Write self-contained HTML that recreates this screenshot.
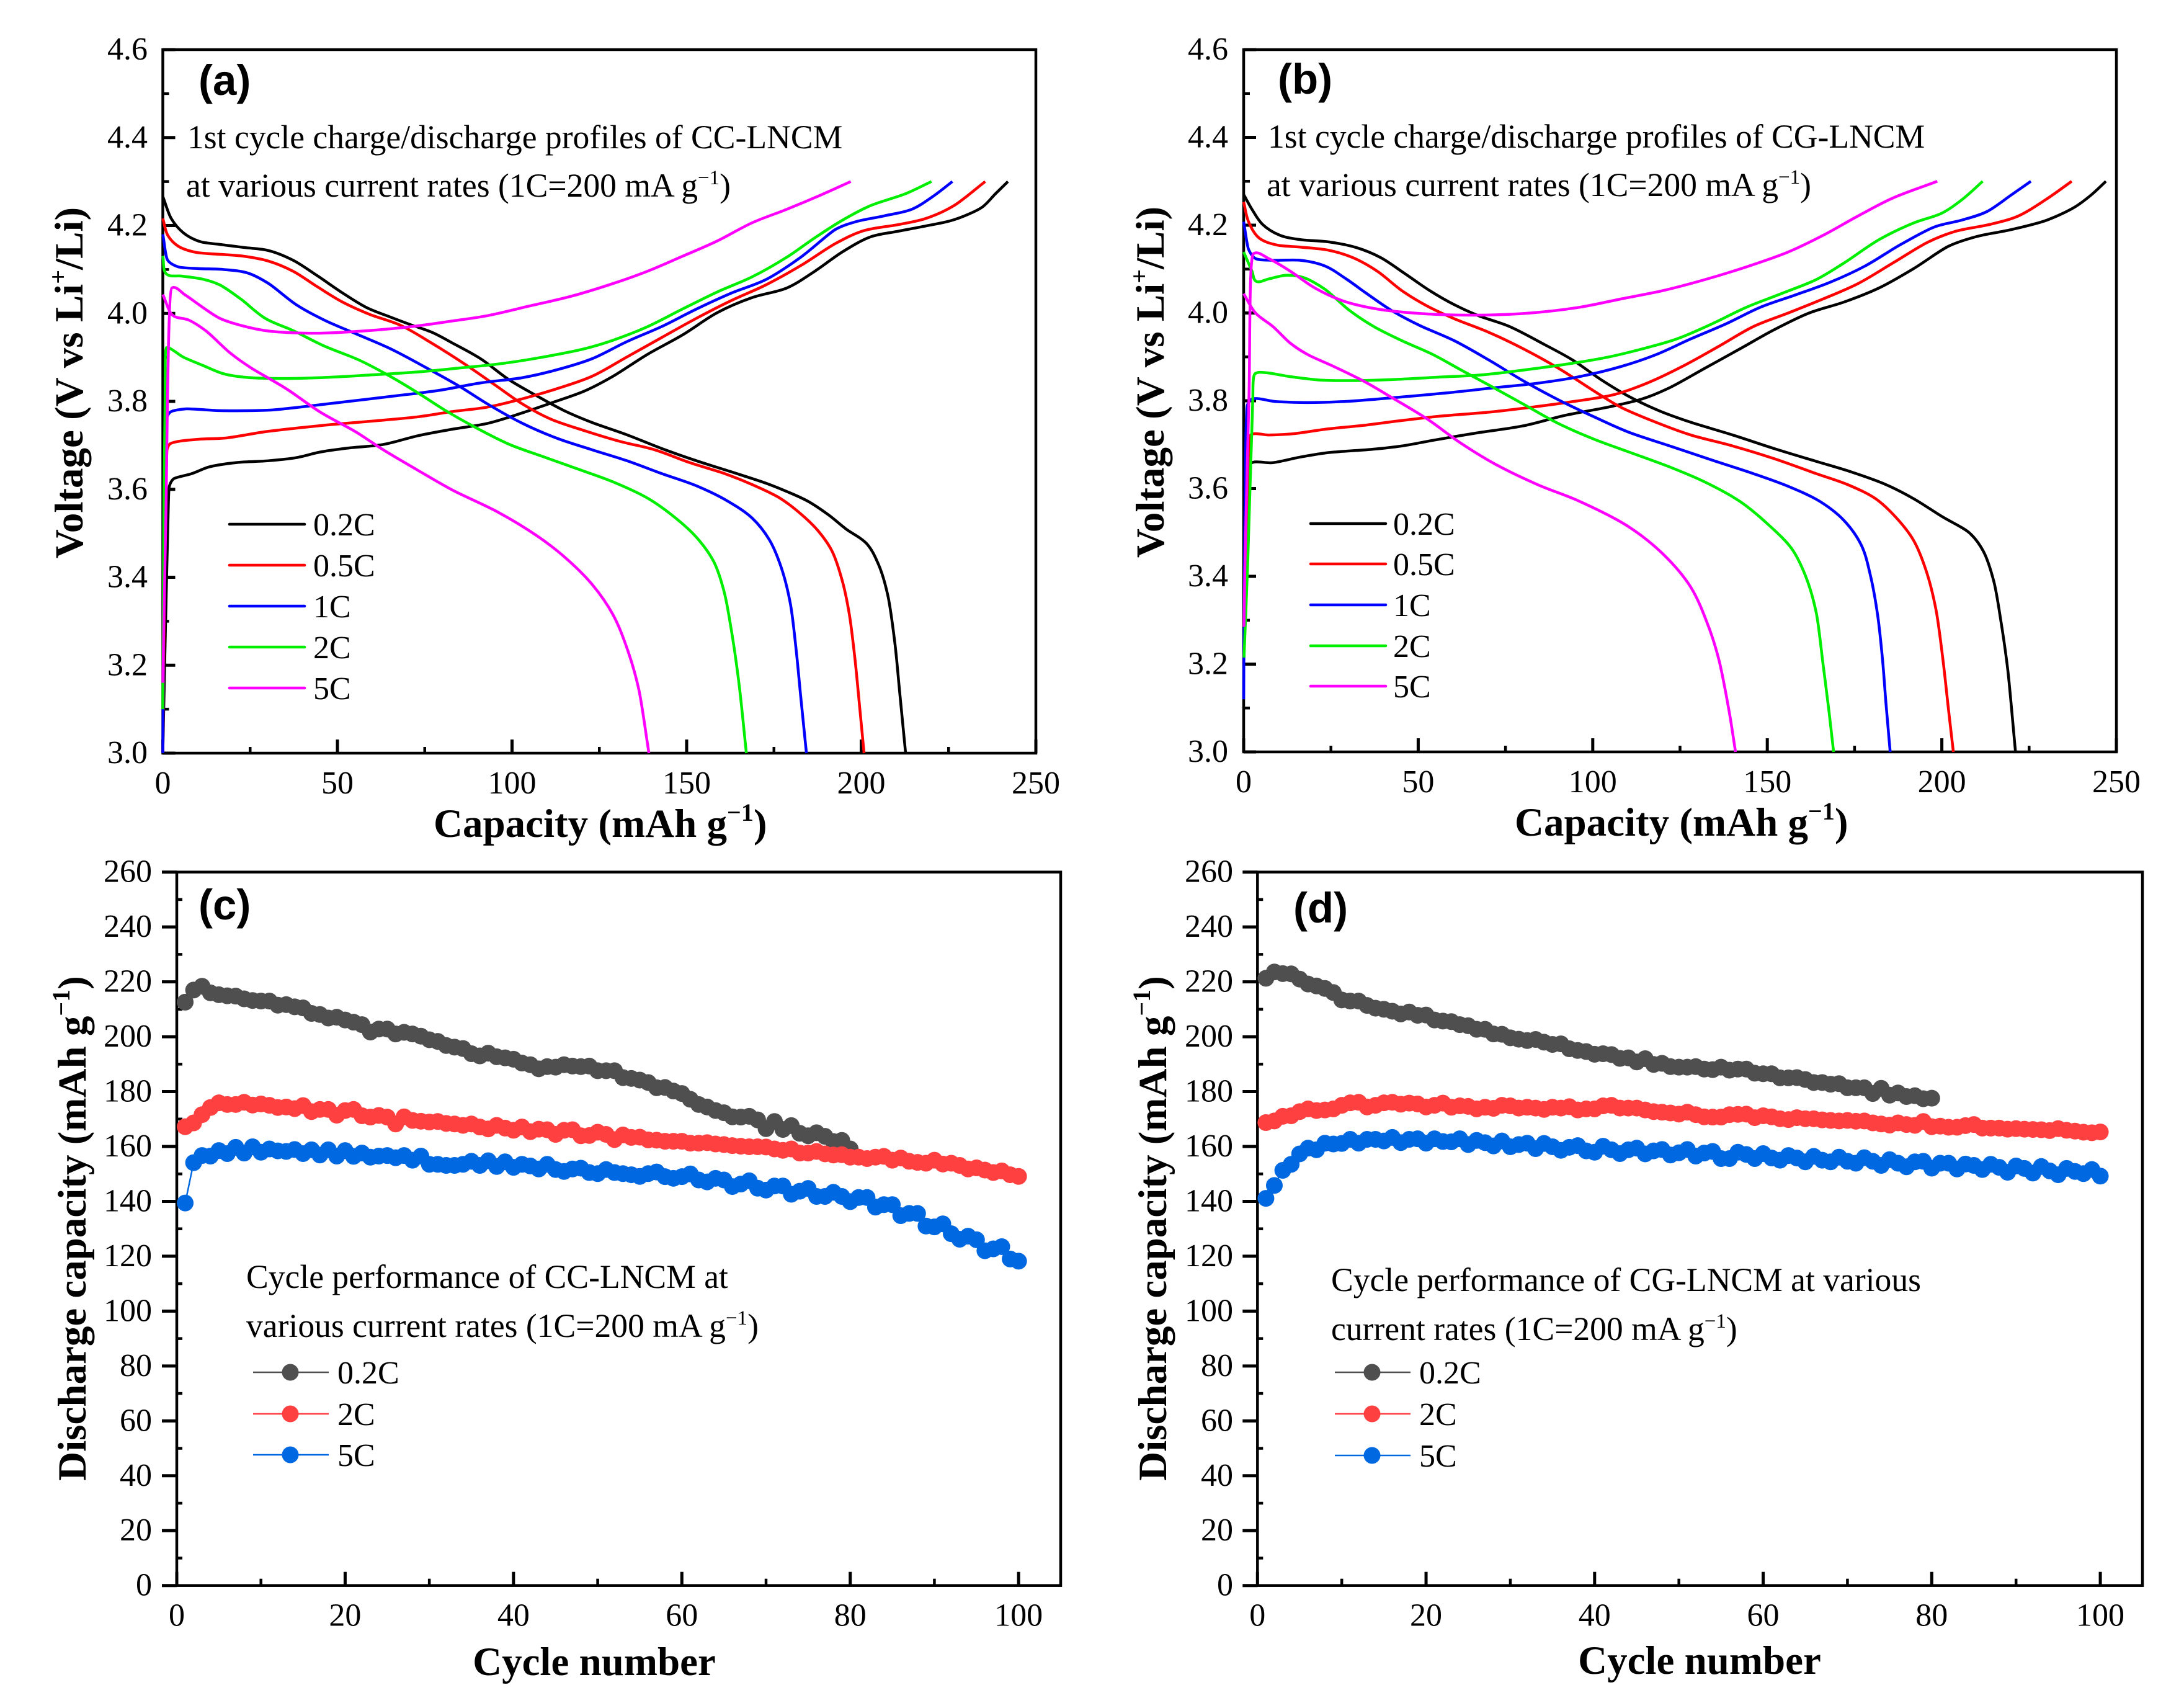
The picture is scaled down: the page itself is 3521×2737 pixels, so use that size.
<!DOCTYPE html>
<html lang="en">
<head>
<meta charset="utf-8">
<title>Charge/discharge profiles and cycle performance of CC-LNCM and CG-LNCM</title>
<style>
html,body{margin:0;padding:0;background:#fff;}
svg{display:block;}
text{font-family:"Liberation Serif",serif;fill:#000;}
.tick{font-size:52px;}
.note{font-size:53.6px;}
.leg{font-size:52px;}
.title{font-size:65px;font-weight:bold;}
.tag{font-family:"Liberation Sans",sans-serif;font-size:69px;font-weight:bold;}
</style>
</head>
<body>
<svg id="figure" xmlns="http://www.w3.org/2000/svg" width="3521" height="2737" viewBox="0 0 3521 2737">
<rect x="0" y="0" width="3521" height="2737" fill="#fff"/>

<g id="panel-a"></g>
<g id="panel-b"></g>
<g id="panel-c"></g>
<g id="panel-d"></g>

<g>
<text class="title" transform="translate(133,617) rotate(-90)" text-anchor="middle">Voltage (V vs Li<tspan dy="-26" font-size="40">+</tspan><tspan dy="26">/Li)</tspan></text>
<text class="title" x="699" y="1349">Capacity (mAh g<tspan dy="-26" font-size="40">−1</tspan><tspan dy="26">)</tspan></text>
<text class="tag" x="320" y="153">(a)</text>
<text class="note" x="302" y="239">1st cycle charge/discharge profiles of CC-LNCM</text>
<text class="note" x="300" y="317">at various current rates (1C=200 mA g<tspan dy="-20" font-size="33">−1</tspan><tspan dy="20">)</tspan></text>
<g>
<line x1="370" x2="491" y1="845" y2="845" stroke="#000" stroke-width="4.5" stroke-linecap="round"/>
<text class="leg" x="505" y="863">0.2C</text>
<line x1="370" x2="491" y1="911" y2="911" stroke="#ff0000" stroke-width="4.5" stroke-linecap="round"/>
<text class="leg" x="505" y="929">0.5C</text>
<line x1="370" x2="491" y1="977" y2="977" stroke="#0000ff" stroke-width="4.5" stroke-linecap="round"/>
<text class="leg" x="505" y="995">1C</text>
<line x1="370" x2="491" y1="1043" y2="1043" stroke="#00ee00" stroke-width="4.5" stroke-linecap="round"/>
<text class="leg" x="505" y="1061">2C</text>
<line x1="370" x2="491" y1="1109" y2="1109" stroke="#ff00ff" stroke-width="4.5" stroke-linecap="round"/>
<text class="leg" x="505" y="1127">5C</text>
</g>
</g>

<g>
<text class="title" transform="translate(1876,616) rotate(-90)" text-anchor="middle">Voltage (V vs Li<tspan dy="-26" font-size="40">+</tspan><tspan dy="26">/Li)</tspan></text>
<text class="title" x="2442" y="1347">Capacity (mAh g<tspan dy="-26" font-size="40">−1</tspan><tspan dy="26">)</tspan></text>
<text class="tag" x="2060" y="151">(b)</text>
<text class="note" x="2044" y="238">1st cycle charge/discharge profiles of CG-LNCM</text>
<text class="note" x="2042" y="316">at various current rates (1C=200 mA g<tspan dy="-20" font-size="33">−1</tspan><tspan dy="20">)</tspan></text>
<g>
<line x1="2113" x2="2234" y1="844" y2="844" stroke="#000" stroke-width="4.5" stroke-linecap="round"/>
<text class="leg" x="2246" y="862">0.2C</text>
<line x1="2113" x2="2234" y1="909" y2="909" stroke="#ff0000" stroke-width="4.5" stroke-linecap="round"/>
<text class="leg" x="2246" y="927">0.5C</text>
<line x1="2113" x2="2234" y1="975" y2="975" stroke="#0000ff" stroke-width="4.5" stroke-linecap="round"/>
<text class="leg" x="2246" y="993">1C</text>
<line x1="2113" x2="2234" y1="1041" y2="1041" stroke="#00ee00" stroke-width="4.5" stroke-linecap="round"/>
<text class="leg" x="2246" y="1059">2C</text>
<line x1="2113" x2="2234" y1="1106" y2="1106" stroke="#ff00ff" stroke-width="4.5" stroke-linecap="round"/>
<text class="leg" x="2246" y="1124">5C</text>
</g>
</g>

<g>
<text class="title" transform="translate(138,1980) rotate(-90)" text-anchor="middle">Discharge capacity (mAh g<tspan dy="-26" font-size="40">−1</tspan><tspan dy="26">)</tspan></text>
<text class="title" x="958" y="2700" text-anchor="middle">Cycle number</text>
<text class="tag" x="320" y="1482">(c)</text>
<text class="note" x="397" y="2087" transform="translate(0,-11)">Cycle performance of CC-LNCM at</text>
<text class="note" x="397" y="2166" transform="translate(0,-11)">various current rates (1C=200 mA g<tspan dy="-20" font-size="33">−1</tspan><tspan dy="20">)</tspan></text>
<g>
<line x1="408" x2="530" y1="2212" y2="2212" stroke="#4f4f4f" stroke-width="2.5"/>
<circle cx="468" cy="2212" r="13.5" fill="#4f4f4f"/>
<text class="leg" x="544" y="2230">0.2C</text>
<line x1="408" x2="530" y1="2279" y2="2279" stroke="#ff4040" stroke-width="2.5"/>
<circle cx="468" cy="2279" r="13.5" fill="#ff4040"/>
<text class="leg" x="544" y="2297">2C</text>
<line x1="408" x2="530" y1="2345" y2="2345" stroke="#0068e0" stroke-width="2.5"/>
<circle cx="468" cy="2345" r="13.5" fill="#0068e0"/>
<text class="leg" x="544" y="2363">5C</text>
</g>
</g>

<g>
<text class="title" transform="translate(1880,1980) rotate(-90)" text-anchor="middle">Discharge capacity (mAh g<tspan dy="-26" font-size="40">−1</tspan><tspan dy="26">)</tspan></text>
<text class="title" x="2740" y="2698" text-anchor="middle">Cycle number</text>
<text class="tag" x="2085" y="1487">(d)</text>
<text class="note" x="2146" y="2081">Cycle performance of CG-LNCM at various</text>
<text class="note" x="2146" y="2160">current rates (1C=200 mA g<tspan dy="-20" font-size="33">−1</tspan><tspan dy="20">)</tspan></text>
<g>
<line x1="2152" x2="2274" y1="2212" y2="2212" stroke="#4f4f4f" stroke-width="2.5"/>
<circle cx="2212" cy="2212" r="13.5" fill="#4f4f4f"/>
<text class="leg" x="2288" y="2230">0.2C</text>
<line x1="2152" x2="2274" y1="2279" y2="2279" stroke="#ff4040" stroke-width="2.5"/>
<circle cx="2212" cy="2279" r="13.5" fill="#ff4040"/>
<text class="leg" x="2288" y="2297">2C</text>
<line x1="2152" x2="2274" y1="2346" y2="2346" stroke="#0068e0" stroke-width="2.5"/>
<circle cx="2212" cy="2346" r="13.5" fill="#0068e0"/>
<text class="leg" x="2288" y="2364">5C</text>
</g>
</g>
</svg>

<script>
// ---- tick values ----
const capacityTickLabels = ["0","50","100","150","200","250"];
const capacityTickValues = [0,50,100,150,200,250];
const capacityMinorValues = [25,75,125,175,225];
const voltageTickLabels = ["3.0","3.2","3.4","3.6","3.8","4.0","4.2","4.4","4.6"];
const voltageTickValues = [3.0,3.2,3.4,3.6,3.8,4.0,4.2,4.4,4.6];
const voltageMinorValues = [3.1,3.3,3.5,3.7,3.9,4.1,4.3,4.5];
const cycleTickLabels = ["0","20","40","60","80","100"];
const cycleTickValues = [0,20,40,60,80,100];
const cycleMinorValues = [10,30,50,70,90];
const dischargeTickLabels = ["0","20","40","60","80","100","120","140","160","180","200","220","240","260"];
const dischargeTickValues = [0,20,40,60,80,100,120,140,160,180,200,220,240,260];
const dischargeMinorValues = [10,30,50,70,90,110,130,150,170,190,210,230,250];

// ---- panel (a): [capacity, voltage] ----
const a02cDischarge = [[0,4.266],[2.4,4.216],[5.8,4.184],[10.4,4.164],[16.3,4.157],[23.3,4.15],[30.3,4.143],[37.3,4.121],[44.2,4.086],[51.2,4.048],[58.2,4.014],[65.1,3.992],[71.1,3.974],[77.1,3.957],[83.1,3.932],[91,3.897],[99,3.85],[107,3.813],[114.9,3.779],[122.9,3.752],[132.9,3.724],[142.8,3.693],[152.8,3.665],[162.7,3.64],[172.7,3.614],[178.7,3.595],[184.7,3.573],[190.6,3.542],[195.6,3.51],[201.6,3.476],[205,3.428],[207.6,3.359],[209.6,3.252],[211,3.139],[212.7,3.0]];
const a02cCharge = [[0,3.0],[0.8,3.3],[1.6,3.57],[1.9,3.608],[3.1,3.624],[8.4,3.636],[13.3,3.651],[21.3,3.661],[30.3,3.665],[38.2,3.672],[45.2,3.685],[53.2,3.694],[63.1,3.702],[73.1,3.722],[83.1,3.737],[93,3.75],[103,3.774],[112.9,3.801],[120.9,3.824],[128.9,3.857],[138.8,3.907],[148.8,3.951],[158.8,4.002],[168.7,4.036],[178.7,4.058],[186.7,4.096],[194.6,4.14],[202.6,4.174],[210.6,4.187],[218.5,4.199],[226.5,4.213],[234.5,4.241],[238.4,4.272],[242,4.3]];
const a05cDischarge = [[0,4.216],[1.4,4.178],[4.4,4.153],[9.4,4.139],[17.3,4.134],[23.3,4.13],[30.3,4.119],[37.3,4.096],[44.2,4.061],[51.2,4.027],[59.2,3.998],[68.1,3.973],[77.1,3.932],[87,3.882],[95,3.838],[103,3.794],[111,3.76],[120.9,3.733],[130.9,3.709],[140.8,3.69],[150.8,3.661],[160.8,3.636],[168.7,3.611],[176.7,3.58],[182.7,3.544],[187.6,3.506],[191.6,3.46],[194.6,3.391],[196.6,3.315],[198.2,3.214],[199.6,3.1],[200.8,3.0]];
const a05cCharge = [[0,3.0],[0.5,3.4],[1.2,3.69],[2,3.703],[4.4,3.709],[10.4,3.714],[18.3,3.717],[29.3,3.731],[39.2,3.74],[49.2,3.748],[61.2,3.756],[73.1,3.765],[83,3.777],[93,3.787],[103,3.806],[112.9,3.829],[122.9,3.857],[132.9,3.901],[142.8,3.945],[152.8,3.989],[162.7,4.029],[172.7,4.065],[182.7,4.109],[192.6,4.159],[200.6,4.188],[210.6,4.202],[218.5,4.216],[226.5,4.245],[235.5,4.3]];
const a1cDischarge = [[0,4.18],[1.4,4.121],[4.4,4.106],[10.4,4.102],[17.3,4.1],[24.3,4.092],[30.3,4.068],[38.2,4.02],[46.2,3.985],[55.2,3.954],[65.1,3.92],[75.1,3.878],[85,3.834],[93,3.794],[103,3.75],[112.9,3.716],[122.9,3.69],[132.9,3.665],[142.8,3.636],[152.8,3.608],[161.8,3.573],[168.7,3.535],[173.7,3.485],[177.1,3.422],[179.7,3.34],[181.3,3.239],[182.7,3.126],[184.3,3.0]];
const a1cCharge = [[0,3.0],[0.4,3.5],[1,3.76],[2.2,3.776],[6.7,3.783],[16.3,3.779],[30.3,3.78],[39.2,3.787],[53.2,3.8],[67.1,3.813],[79.1,3.825],[91,3.842],[103,3.854],[112.9,3.872],[122.9,3.897],[132.9,3.936],[142.8,3.97],[152.8,4.01],[162.7,4.046],[172.7,4.077],[182.7,4.128],[192.6,4.191],[198.6,4.209],[206.6,4.222],[214.5,4.237],[220.5,4.266],[226.1,4.3]];
const a2cDischarge = [[0,4.131],[1,4.09],[5.4,4.085],[11.4,4.078],[16.3,4.065],[22.3,4.033],[29.3,3.989],[37.3,3.961],[46.2,3.926],[56.2,3.894],[65.1,3.857],[73.1,3.819],[81,3.779],[89,3.743],[99,3.703],[109,3.674],[118.9,3.646],[128.9,3.617],[138.8,3.58],[146.8,3.535],[152.8,3.491],[157.8,3.435],[160.8,3.365],[163.1,3.265],[165.1,3.151],[167.1,3.0]];
const a2cCharge = [[0,3.1],[0.27,3.528],[0.62,3.78],[1.03,3.922],[2.8,3.917],[5.8,3.901],[11.4,3.882],[17.3,3.863],[23.3,3.855],[33.3,3.852],[45.2,3.854],[59.2,3.86],[73.1,3.867],[85,3.876],[97,3.886],[109,3.901],[120.9,3.92],[128.9,3.939],[138.8,3.97],[148.8,4.01],[158.8,4.049],[168.7,4.083],[178.7,4.128],[186.7,4.172],[194.6,4.212],[202.6,4.245],[212.6,4.272],[220.1,4.3]];
const a5cDischarge = [[0,4.043],[2.8,3.996],[7.4,3.985],[12.4,3.96],[19.3,3.91],[25.3,3.876],[35.3,3.829],[45.2,3.775],[55.2,3.731],[63.1,3.69],[73.1,3.643],[83,3.598],[96,3.548],[107,3.495],[114.9,3.447],[122.9,3.384],[128.9,3.315],[132.9,3.239],[136.3,3.145],[139.2,3.0]];
const a5cCharge = [[0,3.16],[0.85,3.528],[2.6,4.058],[6.4,4.042],[11.4,4.014],[16.3,3.989],[22.3,3.973],[30.3,3.96],[43.2,3.955],[57.2,3.96],[71.1,3.97],[83,3.983],[93,3.995],[105,4.017],[116.9,4.039],[128.9,4.068],[138.8,4.096],[148.8,4.13],[158.8,4.165],[168.7,4.206],[178.7,4.237],[188.6,4.27],[197,4.3]];

// ---- panel (b): [capacity, voltage] ----
const b02cDischarge = [[0,4.27],[2.4,4.236],[5.4,4.202],[10.4,4.177],[16.4,4.167],[24.3,4.162],[32.3,4.149],[39.3,4.126],[46.3,4.089],[53.3,4.051],[60.3,4.019],[67.2,3.994],[76.2,3.969],[86.2,3.928],[94.2,3.893],[102.2,3.849],[110.1,3.811],[119.1,3.777],[128.1,3.751],[140.1,3.722],[152,3.691],[164,3.662],[174,3.638],[184,3.609],[191.9,3.577],[199.9,3.537],[207.9,3.499],[211.9,3.457],[214.9,3.388],[216.9,3.299],[218.9,3.186],[221.1,3.0]];
const b02cCharge = [[0,3.2],[0.8,3.4],[1.6,3.62],[2,3.657],[8.4,3.659],[16.4,3.672],[24.3,3.682],[36.3,3.689],[45.3,3.697],[54.3,3.71],[66.2,3.726],[80.2,3.743],[92.2,3.767],[104.1,3.785],[114.1,3.804],[122.1,3.83],[132.1,3.874],[142.1,3.918],[152,3.962],[162,4.0],[172,4.025],[182,4.057],[191.9,4.101],[201.9,4.152],[209.9,4.174],[219.9,4.19],[229.9,4.211],[237.8,4.24],[242.8,4.269],[247,4.3]];
const b05cDischarge = [[0,4.253],[1.4,4.208],[4.4,4.171],[9.4,4.155],[16.4,4.15],[24.3,4.143],[31.3,4.126],[38.3,4.095],[45.3,4.051],[52.3,4.017],[60.3,3.987],[70.2,3.956],[80.2,3.918],[90.2,3.874],[100.2,3.823],[108.1,3.785],[118.1,3.751],[128.1,3.722],[140.1,3.697],[152,3.668],[164,3.634],[173,3.609],[181,3.577],[187,3.533],[191.9,3.482],[195.5,3.413],[198.3,3.325],[200.3,3.211],[201.9,3.097],[203.3,3.0]];
const b05cCharge = [[0,3.2],[0.8,3.45],[1.6,3.69],[2,3.722],[7.4,3.722],[14.4,3.725],[24.3,3.736],[34.3,3.744],[44.3,3.754],[56.3,3.765],[70.2,3.774],[82.2,3.785],[94.2,3.798],[106.1,3.814],[116.1,3.842],[126.1,3.88],[136.1,3.924],[146,3.969],[156,4.0],[166,4.032],[176,4.067],[186,4.114],[195.9,4.161],[203.9,4.186],[213.9,4.202],[221.9,4.221],[229.9,4.259],[237.2,4.3]];
const b1cDischarge = [[0,4.208],[1.4,4.145],[3.4,4.124],[8.4,4.12],[16.4,4.12],[23.3,4.107],[29.3,4.078],[35.3,4.044],[42.3,4.006],[50.3,3.972],[60.3,3.937],[70.2,3.893],[80.2,3.845],[90.2,3.802],[100.2,3.764],[110.1,3.729],[122.1,3.697],[134.1,3.665],[146,3.634],[156,3.605],[165,3.571],[172,3.527],[177,3.47],[179.6,3.4],[181.6,3.312],[183,3.211],[184,3.11],[185.2,3.0]];
const b1cCharge = [[0,3.12],[0.3,3.5],[0.8,3.76],[2,3.802],[9.4,3.798],[18.4,3.796],[30.3,3.799],[44.3,3.808],[58.3,3.818],[72.2,3.83],[84.2,3.84],[96.2,3.855],[108.1,3.878],[118.1,3.905],[128.1,3.941],[138.1,3.975],[148,4.013],[158,4.041],[168,4.07],[178,4.107],[188,4.155],[197.9,4.196],[205.9,4.212],[212.9,4.231],[219.9,4.269],[225.5,4.3]];
const b2cDischarge = [[0,4.139],[2.4,4.095],[3.6,4.072],[7.4,4.078],[12.4,4.086],[17.4,4.08],[23.3,4.054],[30.3,4.006],[37.3,3.969],[45.3,3.937],[54.3,3.905],[62.3,3.87],[70.2,3.836],[80.2,3.792],[90.2,3.748],[100.2,3.713],[110.1,3.684],[122.1,3.649],[132.1,3.615],[142.1,3.571],[150,3.52],[157,3.463],[161,3.4],[164,3.318],[166,3.198],[167.6,3.097],[169,3.0]];
const b2cCharge = [[0.1,3.215],[1.2,3.44],[2.6,3.8],[3.2,3.861],[6.4,3.864],[13.4,3.855],[22.3,3.847],[32.3,3.846],[44.3,3.849],[56.3,3.854],[68.2,3.859],[80.2,3.87],[92.2,3.883],[104.1,3.899],[114.1,3.918],[124.1,3.941],[134.1,3.975],[144,4.013],[154,4.044],[164,4.076],[172,4.114],[182,4.167],[191.9,4.205],[199.9,4.227],[205.9,4.259],[211.7,4.3]];
const b5cDischarge = [[0,4.044],[3.4,4.0],[8.4,3.969],[13.4,3.931],[18.4,3.905],[25.3,3.88],[34.3,3.845],[42.3,3.808],[52.3,3.76],[62.3,3.703],[72.2,3.655],[84.2,3.609],[96.2,3.571],[110.1,3.514],[120.1,3.451],[128.1,3.375],[133.1,3.287],[136.1,3.211],[139.1,3.091],[140.9,3.0]];
const b5cCharge = [[0.1,3.285],[0.4,3.44],[1.5,3.8],[2.8,4.135],[7.4,4.123],[13.4,4.095],[20.4,4.057],[28.3,4.028],[38.3,4.009],[50.3,3.999],[66.2,3.995],[82.2,4.0],[96.2,4.013],[108.1,4.032],[120.1,4.051],[132.1,4.076],[144,4.105],[156,4.139],[166,4.177],[176,4.221],[186,4.262],[198.7,4.3]];

// ---- panel (c): discharge capacity per cycle (cycle = index + 1) ----
const c02cCapacity = [212.6,217,218.4,216,215.3,214.9,214.8,213.8,213.2,213,213,211.5,211.7,210.9,210.5,208.5,208.1,206.8,207.1,206.1,205.3,204.4,201.7,202.8,202.8,201,201.6,201,200.2,198.9,198.3,196.8,196.2,195.7,193.8,193,194,192.7,192.3,191.8,190.4,189.8,188.3,189.1,188.9,189.8,189.3,189.1,189.3,187.6,187.6,187.6,185.1,184.8,184.2,183.3,181.4,181.5,180.2,179.3,177.2,175.3,174.4,173.1,172.3,170.8,170.7,171,169.7,166.5,169.1,166.2,167.6,164.8,163.9,165,163.7,161.8,162.2,159.1];
const c2cCapacity = [167.2,168.6,171.6,174.2,175.9,175.3,175.3,176.1,175.1,175.5,175,174.2,174.4,173.8,174.9,172.7,173.5,173.5,171.4,173.1,173.5,171.2,170.7,171.3,170.7,168.2,170.8,169.5,169.2,168.9,169.1,168.4,168.2,167.7,168.2,167.1,166.4,167.7,166.7,165.9,167.1,165.4,166.3,166.1,164.4,165.9,166.1,163.9,164,165.2,164.4,162.5,164.2,163.3,163.4,162.4,162.3,161.9,161.9,161.9,161.2,161.2,161.4,160.9,160.7,160.3,160.1,159.9,159.9,159.8,159.1,158.6,159.1,157.6,157.6,158.2,157.3,156.9,157,156.1,156.1,155.6,156.1,156.4,155,155.8,154.6,154.2,153.9,155,153.6,153.9,153.1,151.8,152.2,151.4,150.5,151.1,149.7,149.1];
const c5cCapacity = [139.4,154.1,156.7,156.5,158.5,157.4,159.7,157.6,159.9,157.9,159.1,158.4,158.2,158.9,157.4,158.8,156.9,158.8,156.5,158.5,156.4,157.6,156.1,156.5,156.7,155.9,156.7,155,156.5,153.5,153.5,153.1,153.1,153.5,154.6,153.1,154.8,152.7,154.4,152.4,153.5,152.9,151.8,153.5,151.6,150.9,151.8,152.1,150.5,150.1,151.6,150.5,150.1,149.7,149.1,150.1,150.7,149,148.4,149,150,147.8,147.1,148.4,147.8,145.4,146.3,147.5,144.8,144.1,145.6,145.6,142.6,143.7,144.7,141.8,141.8,143.3,141.8,139.9,141.4,141.4,137.9,138.8,138.8,134.8,135.6,135.6,131,130.7,131.8,128.2,126.2,127.3,126,122,122.7,123.5,119,118.2];

// ---- panel (d): discharge capacity per cycle (cycle = index + 1) ----
const d02cCapacity = [221.3,223.6,223,222.9,221,219.2,218.5,217.6,216.1,213.4,213,213,211.4,210.4,210,209.3,208.3,209,207.8,207.9,206.1,205.7,205.5,204.4,204,202.7,202.7,201,200.9,199.6,199.1,198.6,199,198,197.2,197.4,195.6,195,194.6,193.6,193.8,193.5,192.1,192.3,190.8,192,189.9,190.3,189.1,188.9,188.9,189.1,188.2,188,188.9,187.8,188.2,188.2,186.7,186.5,186.5,185,185,185.1,184.4,183.3,183.3,182.7,182.9,181.4,181.4,181.4,179.3,181.2,178.7,179.5,178.2,178.5,177.4,177.6];
const d2cCapacity = [168.7,169.3,171,171.2,172.7,173.7,173.1,173.3,173.7,175,175.9,176.1,174.4,175,175.9,176.1,175.4,175.8,175.5,174.4,175,175.8,174.3,174.8,174.6,173.7,174.3,173.9,175,174.8,174,174.3,174,173.5,174.3,174,174.5,173.3,173.7,173.7,174.8,175,174,174,174,173.3,172.7,172.5,172.2,171.8,172.5,171.6,170.8,170.7,170.7,171.6,171.7,171.8,170.5,171.2,170.8,170.1,169.8,170.5,170.1,170.1,169.7,169.5,169.3,169.5,169.2,169.3,168.6,168.2,167.8,168.6,168,167.7,169.1,167.2,167.4,167,167,167.6,168,166.7,166.7,166.7,166.3,166.5,166.3,166.2,166.1,165.8,166.5,165.9,165.6,165.2,165,165.3];
const d5cCapacity = [141.1,145.8,151.3,153.5,157.3,159.4,158.8,161.2,160.9,161.1,162.6,161.2,162.6,162.6,162,163.3,161.4,162.6,162.8,161.2,162.8,161.8,161.7,162.8,160.7,162.2,161.4,160.2,162,159.9,160.7,161.2,159.2,161.1,159.9,158.6,159.7,160.3,158.4,157.9,160.1,158.8,157.4,158.8,159.4,157.3,158.4,158.9,156.9,157.7,158.9,156.5,157.6,158.2,155.6,155.6,157.9,157.1,155.6,157.4,155.8,155,156.7,155.8,154.4,156.4,155,154.4,156.1,154.6,153.9,155.9,154.6,153.1,155.2,153.9,152.6,154.4,154.6,152.1,153.9,153.9,151.8,153.6,153.1,151.6,153.5,152.4,150.6,152.9,152,150.3,152.7,151.1,149.7,152,150.9,150.1,151.6,149.2];

// ---- series tables ----
const profileColors = ["#000000","#ff0000","#0000ff","#00ee00","#ff00ff"];
const profileRates = ["0-2c","0-5c","1c","2c","5c"];
const cycleColors = ["#4f4f4f","#ff4040","#0068e0"];
const cycleRates = ["0-2c","2c","5c"];

const SVGNS = "http://www.w3.org/2000/svg";
function svgEl(tag, parent) {
  const el = document.createElementNS(SVGNS, tag);
  parent.appendChild(el);
  return el;
}
function linearScale(d0, d1, r0, r1) {
  return function (v) { return r0 + (v - d0) * (r1 - r0) / (d1 - d0); };
}
function segLen(a, b) {
  return Math.hypot(b[0] - a[0], b[1] - a[1]) || 1e-6;
}
// Smooth curve whose handles are limited by the shorter neighbouring segment, so sharp corners do not overshoot.
function smoothPath(pts) {
  const n = pts.length;
  const tangents = pts.map(function (p, i) {
    if (i === 0 || i === n - 1) {
      const a = pts[Math.max(i - 1, 0)], b = pts[Math.min(i + 1, n - 1)], l = segLen(a, b);
      return [(b[0] - a[0]) / l, (b[1] - a[1]) / l];
    }
    const l1 = segLen(pts[i - 1], p), l2 = segLen(p, pts[i + 1]);
    const tx = (p[0] - pts[i - 1][0]) / l1 + (pts[i + 1][0] - p[0]) / l2;
    const ty = (p[1] - pts[i - 1][1]) / l1 + (pts[i + 1][1] - p[1]) / l2;
    const l = Math.hypot(tx, ty) || 1e-6;
    return [tx / l, ty / l];
  });
  function handle(i) {
    if (i === 0) return segLen(pts[0], pts[1]) / 3;
    if (i === n - 1) return segLen(pts[n - 2], pts[n - 1]) / 3;
    return Math.min(segLen(pts[i - 1], pts[i]), segLen(pts[i], pts[i + 1])) / 3;
  }
  let d = "M" + pts[0][0].toFixed(2) + " " + pts[0][1].toFixed(2);
  for (let i = 0; i < n - 1; i++) {
    const h1 = handle(i), h2 = handle(i + 1);
    const c1x = pts[i][0] + tangents[i][0] * h1, c1y = pts[i][1] + tangents[i][1] * h1;
    const c2x = pts[i + 1][0] - tangents[i + 1][0] * h2, c2y = pts[i + 1][1] - tangents[i + 1][1] * h2;
    d += "C" + c1x.toFixed(2) + " " + c1y.toFixed(2) + " " + c2x.toFixed(2) + " " + c2y.toFixed(2) + " " + pts[i + 1][0].toFixed(2) + " " + pts[i + 1][1].toFixed(2);
  }
  return d;
}
function drawTick(parent, name, x1, y1, x2, y2, width) {
  const t = svgEl("line", parent);
  t.setAttribute("x1", x1);
  t.setAttribute("y1", y1);
  t.setAttribute("x2", x2);
  t.setAttribute("y2", y2);
  t.setAttribute("stroke", "#000");
  t.setAttribute("stroke-width", width);
  
  
}
function drawTickLabel(parent, name, x, y, anchor, str) {
  const t = svgEl("text", parent);
  t.setAttribute("class", "tick");
  t.setAttribute("x", x);
  t.setAttribute("y", y);
  t.setAttribute("text-anchor", anchor);
  t.textContent = str;
  
  
}
function drawFrame(parent, id, box) {
  const r = svgEl("rect", parent);
  r.setAttribute("x", box.x0);
  r.setAttribute("y", box.y1);
  r.setAttribute("width", box.x1 - box.x0);
  r.setAttribute("height", box.y0 - box.y1);
  r.setAttribute("fill", "none");
  r.setAttribute("stroke", "#000");
  r.setAttribute("stroke-width", "4.5");
  
  
}

function drawAxes(parent, id, box, sx, sy, cfg) {
  drawFrame(parent, id, box);
  cfg.xMajor.forEach(function (v, i) {
    drawTick(parent, "x-tick-" + id, sx(v), box.y0, sx(v), box.y0 - cfg.xMajorLen, 5);
    drawTickLabel(parent, "x-tick-label-" + id, sx(v), box.y0 + cfg.xLabelDy, "middle", cfg.xLabels[i]);
  });
  cfg.xMinor.forEach(function (v) {
    drawTick(parent, "x-minor-tick-" + id, sx(v), box.y0, sx(v), box.y0 - cfg.xMinorLen, 4.5);
  });
  cfg.yMajor.forEach(function (v, i) {
    drawTick(parent, "y-tick-" + id, box.x0, sy(v), box.x0 + cfg.yMajorDir, sy(v), 5);
    drawTickLabel(parent, "y-tick-label-" + id, cfg.yLabelX, sy(v) + 16, "end", cfg.yLabels[i]);
  });
  cfg.yMinor.forEach(function (v) {
    drawTick(parent, "y-minor-tick-" + id, box.x0, sy(v), box.x0 + cfg.yMinorLen, sy(v), 4.5);
  });
}

function drawProfilePanel(id, box, curves, labelX) {
  const parent = document.getElementById("panel-" + id);
  const sx = linearScale(0, 250, box.x0, box.x1);
  const sy = linearScale(3.0, 4.6, box.y0, box.y1);
  drawAxes(parent, id, box, sx, sy, {
    xMajor: capacityTickValues, xMinor: capacityMinorValues, xLabels: capacityTickLabels,
    xMajorLen: 22, xMinorLen: 10, xLabelDy: 65,
    yMajor: voltageTickValues, yMinor: voltageMinorValues, yLabels: voltageTickLabels,
    yMajorDir: 20, yMinorLen: 10, yLabelX: labelX
  });
  curves.forEach(function (pair, i) {
    pair.forEach(function (curve, j) {
      const p = svgEl("path", parent);
      p.setAttribute("d", smoothPath(curve.map(function (q) { return [sx(q[0]), sy(q[1])]; })));
      p.setAttribute("fill", "none");
      p.setAttribute("stroke", profileColors[i]);
      p.setAttribute("stroke-width", "4.5");
      p.setAttribute("stroke-linejoin", "round");
      
      
    });
  });
}

function drawCyclePanel(id, box, series, labelX) {
  const parent = document.getElementById("panel-" + id);
  const sx = linearScale(0, 105, box.x0, box.x1);
  const sy = linearScale(0, 260, box.y0, box.y1);
  drawAxes(parent, id, box, sx, sy, {
    xMajor: cycleTickValues, xMinor: cycleMinorValues, xLabels: cycleTickLabels,
    xMajorLen: 22, xMinorLen: 11, xLabelDy: 65,
    yMajor: dischargeTickValues, yMinor: dischargeMinorValues, yLabels: dischargeTickLabels,
    yMajorDir: -24, yMinorLen: 9, yLabelX: labelX
  });
  series.forEach(function (values, i) {
    const line = svgEl("polyline", parent);
    line.setAttribute("points", values.map(function (v, k) { return sx(k + 1).toFixed(2) + "," + sy(v).toFixed(2); }).join(" "));
    line.setAttribute("fill", "none");
    line.setAttribute("stroke", cycleColors[i]);
    line.setAttribute("stroke-width", "2.5");
    
    
    values.forEach(function (v, k) {
      const c = svgEl("circle", parent);
      c.setAttribute("cx", sx(k + 1).toFixed(2));
      c.setAttribute("cy", sy(v).toFixed(2));
      c.setAttribute("r", "13.5");
      c.setAttribute("fill", cycleColors[i]);
      
      
    });
  });
}

drawProfilePanel("a", {x0:262.5,x1:1670,y0:1214,y1:80}, [
  [a02cDischarge,a02cCharge],[a05cDischarge,a05cCharge],[a1cDischarge,a1cCharge],[a2cDischarge,a2cCharge],[a5cDischarge,a5cCharge]
], 238);
drawProfilePanel("b", {x0:2005,x1:3412,y0:1212,y1:80}, [
  [b02cDischarge,b02cCharge],[b05cDischarge,b05cCharge],[b1cDischarge,b1cCharge],[b2cDischarge,b2cCharge],[b5cDischarge,b5cCharge]
], 1980);
drawCyclePanel("c", {x0:285,x1:1710,y0:2555.7,y1:1405.7}, [c02cCapacity,c2cCapacity,c5cCapacity], 245);
drawCyclePanel("d", {x0:2027.3,x1:3454,y0:2555.7,y1:1405.7}, [d02cCapacity,d2cCapacity,d5cCapacity], 1988);
</script>
</body>
</html>
